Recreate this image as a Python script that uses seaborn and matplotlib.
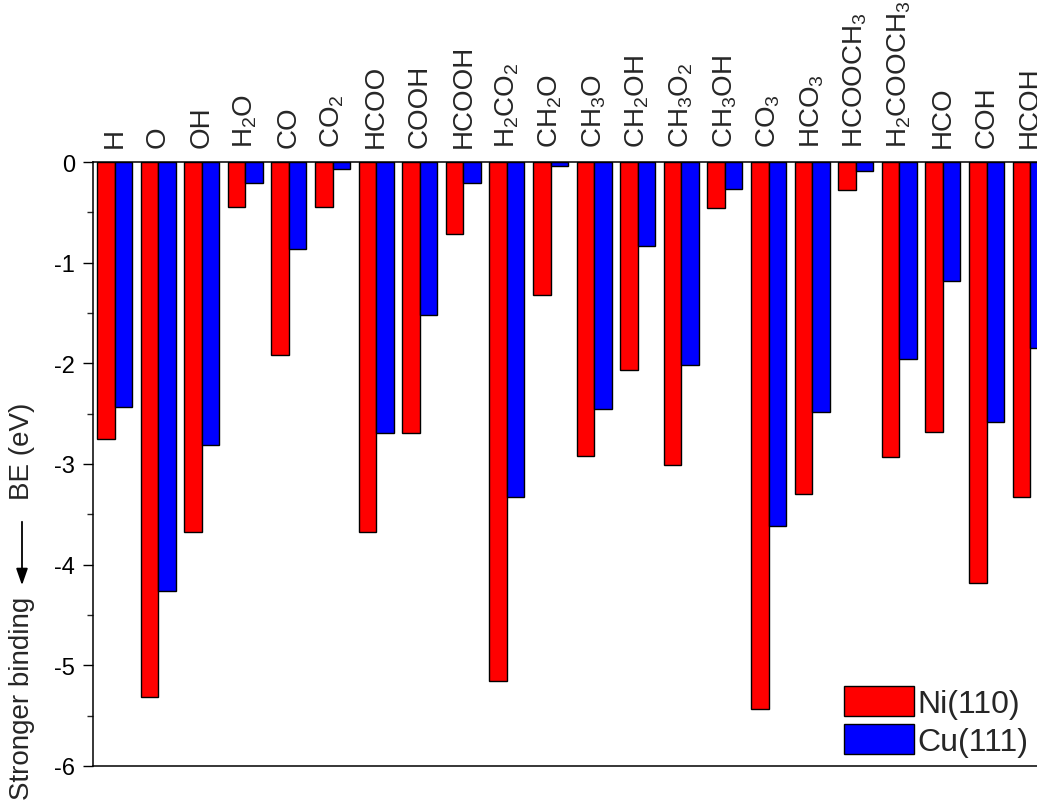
import numpy as np
import pandas as pd
import matplotlib
matplotlib.use('Agg')
import matplotlib.pyplot as plt
import seaborn as sns
from matplotlib.ticker import MultipleLocator

#%% data (binding energies, eV)
species = ['H', 'O', 'OH', 'H$_2$O', 'CO', 'CO$_2$', 'HCOO', 'COOH', 'HCOOH',
           'H$_2$CO$_2$', 'CH$_2$O', 'CH$_3$O', 'CH$_2$OH', 'CH$_3$O$_2$', 'CH$_3$OH',
           'CO$_3$', 'HCO$_3$', 'HCOOCH$_3$', 'H$_2$COOCH$_3$', 'HCO', 'COH', 'HCOH']
ni110 = [-2.75, -5.31, -3.68, -0.45, -1.92, -0.45, -3.68, -2.69, -0.72, -5.16, -1.32,
         -2.92, -2.07, -3.01, -0.46, -5.43, -3.30, -0.28, -2.93, -2.68, -4.18, -3.33]
cu111 = [-2.43, -4.26, -2.81, -0.21, -0.86, -0.07, -2.69, -1.52, -0.21, -3.33, -0.04,
         -2.45, -0.83, -2.02, -0.27, -3.62, -2.48, -0.09, -1.96, -1.18, -2.58, -1.85]
yticks = [-6, -5, -4, -3, -2, -1, 0]
surfaces = ['Ni(110)', 'Cu(111)']
colors = {'Ni(110)': '#ff0000', 'Cu(111)': '#0000ff'}

df = pd.DataFrame({'species': species * 2,
                   'BE': ni110 + cu111,
                   'surface': [surfaces[0]] * len(species) + [surfaces[1]] * len(species)})

#%% style
sns.set_style('ticks')
plt.rcParams['font.family'] = ['Liberation Sans', 'DejaVu Sans']
plt.rcParams['mathtext.default'] = 'regular'
plt.rcParams['axes.linewidth'] = 1.1

fig = plt.figure(figsize=(10.37, 8.03), dpi=100)
# axes run past the right edge of the figure, as in the original
ax = fig.add_axes([92.7 / 1037, 36 / 803, 22 * 43.6 / 1037, 604 / 803])

sns.barplot(data=df, x='species', y='BE', hue='surface', hue_order=surfaces,
            palette=colors, saturation=1, edgecolor='black', linewidth=1,
            errorbar=None, ax=ax)

ax.set_xlabel('')
ax.set_ylabel('')

# species names on top, rotated
ax.tick_params(axis='x', top=True, labeltop=True, bottom=False, labelbottom=False,
               length=0, pad=11, labelsize=20, labelrotation=90)
ax.set_yticks(yticks)
ax.set_yticklabels([str(t) for t in yticks])
ax.yaxis.set_minor_locator(MultipleLocator(0.5))
ax.set_xlim(-0.5, 21.5)
ax.set_ylim(-6, 0)
ax.tick_params(axis='y', which='major', direction='out', length=7.5, width=1,
               labelsize=17, pad=5, colors='black')
ax.tick_params(axis='y', which='minor', direction='out', length=4, width=1)
for s in ax.spines.values():
    s.set_color('black')
    s.set_visible(True)

# y label: "BE (eV)", long arrow, "Stronger binding"
fig.text(22 / 1037, 1 - 403 / 803, 'BE (eV)', rotation=90, ha='center', va='top', fontsize=20)
fig.text(22 / 1037, 1 - 597 / 803, 'Stronger binding', rotation=90, ha='center', va='top',
         fontsize=20)
fig.patches.append(matplotlib.patches.FancyArrowPatch(
    (22 / 1037, 1 - 520 / 803), (22 / 1037, 1 - 589 / 803), transform=fig.transFigure,
    arrowstyle='-|>,head_length=10,head_width=3.5', mutation_scale=1, color='black',
    linewidth=1.3))

ax.legend_.remove()
handles = [plt.Rectangle((0, 0), 1, 1, facecolor=colors[s], edgecolor='black', linewidth=1)
           for s in surfaces]
fig.legend(handles, surfaces, loc='lower left', bbox_to_anchor=(844 / 1037, 1 - 758 / 803),
           bbox_transform=fig.transFigure, frameon=False, fontsize=23,
           handlelength=2.19, handleheight=1.06, labelspacing=0.16, handletextpad=0.1,
           borderpad=0, borderaxespad=0)

plt.savefig('out.png', dpi=100)
